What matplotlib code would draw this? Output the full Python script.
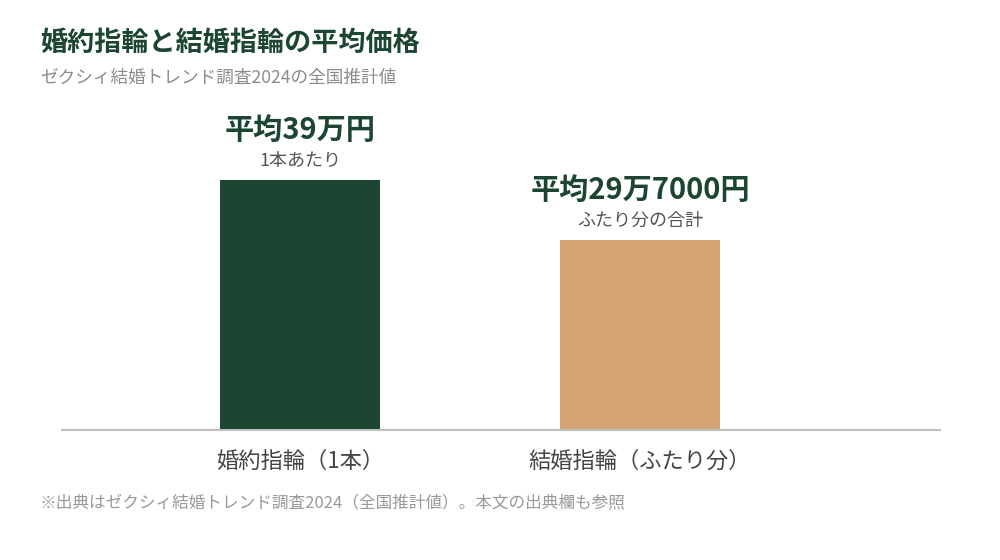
import matplotlib
matplotlib.use("Agg")
import matplotlib.pyplot as plt

plt.rcParams['font.family'] = ['Noto Sans CJK JP', 'DejaVu Sans']

# data (万円)
categories = ['婚約指輪（1本）', '結婚指輪（ふたり分）']
values = [39.0, 29.7]
value_labels = ['平均39万円', '平均29万7000円']
sub_labels = ['1本あたり', 'ふたり分の合計']
colors = ['#1c4532', '#d4a373']

title = '婚約指輪と結婚指輪の平均価格'
subtitle = 'ゼクシィ結婚トレンド調査2024の全国推計値'
footnote = '※出典はゼクシィ結婚トレンド調査2024（全国推計値）。本文の出典欄も参照'

fig = plt.figure(figsize=(10, 5.6), dpi=100)
ax = fig.add_axes([0.062, 0.232, 0.878, 0.589])

x = list(range(len(categories)))
ax.bar(x, values, width=0.47, color=colors)

ax.set_xlim(-0.7, 1.882)
ax.set_ylim(0, 51.5)

for xi, v, vl, sl in zip(x, values, value_labels, sub_labels):
    ax.annotate(vl, (xi, v), xytext=(0, 36), textcoords='offset points',
                ha='center', va='center', fontsize=21, fontweight='bold',
                color='#1c4532')
    ax.annotate(sl, (xi, v), xytext=(0, 14), textcoords='offset points',
                ha='center', va='center', fontsize=13, color='#555555')

ax.set_xticks(x)
ax.set_xticklabels(categories, fontsize=16, color='#444444')
ax.tick_params(axis='x', length=0, pad=14)
ax.set_yticks([])
for s in ['top', 'right', 'left']:
    ax.spines[s].set_visible(False)
ax.spines['bottom'].set_color('#bfbfbf')
ax.spines['bottom'].set_linewidth(1.5)

fig.text(0.04, 1 - 43 / 560, title, fontsize=19.5, fontweight='bold',
         color='#1c4532', va='center', ha='left')
fig.text(0.04, 1 - 78 / 560, subtitle, fontsize=12.7, color='#8c8c8c',
         va='center', ha='left')
fig.text(0.04, 1 - 503 / 560, footnote, fontsize=12, color='#999999',
         va='center', ha='left')

fig.savefig('out.png', dpi=100)
